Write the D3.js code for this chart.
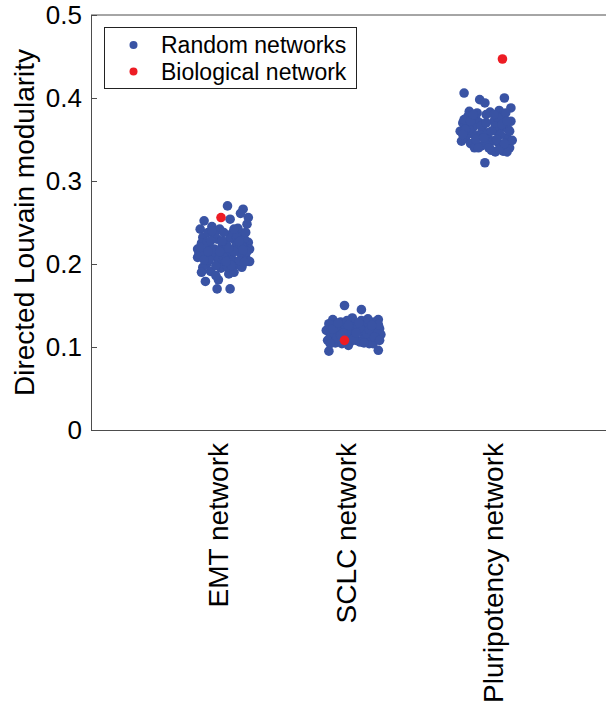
<!DOCTYPE html>
<html><head><meta charset="utf-8">
<script src="https://cdn.jsdelivr.net/npm/d3@7"></script>
<style>html,body{margin:0;padding:0;background:#fff;}svg{display:block;}</style>
</head><body>
<div id="chart"></div>
<script>
const categories = ["EMT network", "SCLC network", "Pluripotency network"];
const yTicks = [0, 0.1, 0.2, 0.3, 0.4, 0.5];
const yTickLabels = ["0", "0.1", "0.2", "0.3", "0.4", "0.5"];
const seriesNames = ["Random networks", "Biological network"];

// Random networks: [jitter offset (category units), modularity]
const emtRandom = [
  [0.05,0.270],[0.17,0.266],[0.15,0.261],[0.21,0.256],[0.07,0.254],[-0.13,0.252],[0.20,0.248],
  [-0.16,0.242],[-0.07,0.245],[-0.01,0.242],[0.16,0.237],[0.08,0.236],[-0.14,0.232],[-0.03,0.230],
  [0.21,0.226],[0.11,0.228],[-0.18,0.218],[-0.09,0.220],[0.01,0.222],[0.13,0.219],[0.22,0.218],
  [-0.18,0.208],[-0.06,0.210],[0.06,0.212],[0.19,0.208],[-0.11,0.200],[0.00,0.200],[0.11,0.199],
  [0.22,0.203],[-0.08,0.191],[0.06,0.188],[-0.12,0.179],[-0.02,0.181],[-0.03,0.170],[0.07,0.170],
  [-0.15,0.225],[-0.05,0.235],[0.03,0.215],[0.09,0.205],[0.15,0.213],[-0.12,0.214],[-0.02,0.205],
  [0.04,0.225],[0.12,0.222],[0.18,0.230],[-0.10,0.238],[0.00,0.195],[-0.14,0.196],[0.16,0.196],
  [0.10,0.190],[-0.05,0.218],[0.07,0.232],[0.14,0.204],[-0.17,0.212],[0.20,0.215],[0.02,0.238],
  [-0.09,0.205],[0.05,0.196],[0.18,0.202],[-0.04,0.186],[0.13,0.243],[-0.11,0.226],
  [-0.16,0.220],[-0.08,0.228],[0.02,0.208],[0.10,0.215],[0.16,0.222],[-0.13,0.205],[-0.04,0.198],
  [0.08,0.198],[0.19,0.238],[-0.01,0.215],[0.12,0.232],[-0.07,0.240],[0.04,0.203],[0.14,0.227],
  [-0.15,0.190],[0.10,0.242],[0.01,0.228],[-0.10,0.215],[0.17,0.217],[0.06,0.219]
];
const sclcRandom = [
  [-0.05,0.150],[0.08,0.145],[-0.14,0.133],[0.21,0.133],[-0.17,0.095],[0.21,0.096],
  [-0.19,0.120],[-0.16,0.112],[-0.15,0.126],[-0.12,0.105],[-0.10,0.118],[-0.08,0.130],[-0.06,0.110],
  [-0.04,0.122],[-0.02,0.102],[0.00,0.115],[0.02,0.128],[0.04,0.108],[0.06,0.120],[0.08,0.132],
  [0.10,0.112],[0.12,0.124],[0.14,0.104],[0.16,0.118],[0.18,0.130],[0.20,0.110],[0.22,0.122],
  [0.23,0.115],[-0.18,0.108],[-0.13,0.117],[-0.09,0.124],[-0.05,0.127],[-0.01,0.120],[0.03,0.113],
  [0.07,0.106],[0.11,0.127],[0.15,0.113],[0.19,0.118],[-0.07,0.104],[0.05,0.125],[0.13,0.134],
  [0.01,0.135],[-0.11,0.111],[0.17,0.104],[-0.03,0.132],[0.09,0.120],[0.21,0.127],[-0.17,0.128],
  [0.00,0.107],[0.12,0.116],
  [-0.14,0.122],[-0.10,0.129],[-0.06,0.117],[-0.02,0.126],[0.02,0.110],[0.06,0.129],[0.10,0.105],
  [0.14,0.121],[0.18,0.112],[0.22,0.108],[-0.16,0.104],[0.04,0.117],[-0.08,0.114],[0.16,0.126]
];
const pluriRandom = [
  [-0.13,0.406],[0.18,0.400],[-0.01,0.398],[0.03,0.394],[0.23,0.388],[-0.09,0.384],[0.14,0.385],
  [-0.16,0.360],[-0.14,0.370],[-0.12,0.352],[-0.10,0.378],[-0.08,0.345],[-0.06,0.365],[-0.04,0.375],
  [-0.02,0.355],[0.00,0.342],[0.02,0.368],[0.04,0.380],[0.06,0.350],[0.08,0.337],[0.10,0.372],
  [0.12,0.360],[0.14,0.345],[0.16,0.378],[0.18,0.365],[0.20,0.352],[0.22,0.340],[0.23,0.372],
  [-0.15,0.348],[-0.11,0.365],[-0.07,0.357],[-0.03,0.382],[0.01,0.360],[0.05,0.358],[0.09,0.348],
  [0.13,0.376],[0.17,0.336],[0.21,0.362],[-0.13,0.374],[-0.05,0.340],[0.07,0.383],[0.11,0.335],
  [0.19,0.382],[0.03,0.345],[-0.09,0.362],[0.15,0.356],[0.24,0.349],[0.03,0.322],[0.20,0.335],
  [-0.01,0.370],[0.11,0.366],
  [-0.12,0.362],[-0.08,0.372],[-0.04,0.350],[0.00,0.366],[0.04,0.370],[0.08,0.360],[0.12,0.350],
  [0.16,0.368],[0.20,0.372],[-0.14,0.356],[-0.02,0.340],[0.06,0.340],[0.14,0.338],[0.18,0.345],
  [0.10,0.380],[-0.06,0.380],[0.22,0.360],[0.02,0.352]
];
// Biological network: [jitter offset, modularity]
const biological = [[0.00,0.256],[-0.05,0.108],[0.165,0.447]];

const W = 606, H = 713;
const margin = {left: 91, top: 15, bottom: 430};
const blue = "#3953a4", red = "#ed1c24", axisColor = "#4d4d4d";
const font = "'Liberation Sans', Arial, Helvetica, sans-serif";

const svg = d3.select("#chart").append("svg").attr("width", W).attr("height", H);

const x = d3.scaleLinear().domain([0, 4]).range([margin.left, 611]);
const y = d3.scaleLinear().domain([0, 0.5]).range([margin.bottom, margin.top]);

// top box line (extends beyond the visible area)
svg.append("line").attr("x1", x(0)).attr("x2", x(4)).attr("y1", y(0.5)).attr("y2", y(0.5))
  .attr("stroke", axisColor).attr("stroke-width", 1);

const yAxis = svg.append("g").attr("transform", `translate(${margin.left},0)`)
  .call(d3.axisLeft(y).tickValues(yTicks).tickFormat((d, i) => yTickLabels[i]).tickSizeInner(-6).tickSizeOuter(0).tickPadding(9));
yAxis.select(".domain").attr("stroke", axisColor);
yAxis.selectAll(".tick line").attr("stroke", axisColor);
yAxis.selectAll(".tick text").attr("font-family", font).attr("font-size", 26).attr("fill", "#000");

const xAxis = svg.append("g").attr("transform", `translate(0,${margin.bottom})`)
  .call(d3.axisBottom(x).tickValues([1, 2, 3]).tickFormat((d) => categories[d - 1]).tickSize(0).tickSizeOuter(0));
xAxis.select(".domain").attr("stroke", axisColor);
const labelShift = [-3, -5, 12];
xAxis.selectAll(".tick text")
  .attr("font-family", font).attr("font-size", 28).attr("fill", "#000")
  .attr("text-anchor", "end")
  .attr("transform", (d, i) => `translate(${labelShift[i]},0) rotate(-90)`)
  .attr("x", -13).attr("y", 0).attr("dy", "0.35em");

// y title
svg.append("text")
  .attr("transform", `translate(34,${(margin.top + margin.bottom) / 2}) rotate(-90)`)
  .attr("text-anchor", "middle")
  .attr("font-family", font).attr("font-size", 28).attr("fill", "#000")
  .text("Directed Louvain modularity");

// points
const groups = [emtRandom, sclcRandom, pluriRandom];
const r = 4.8;
groups.forEach((pts, gi) => {
  svg.append("g").selectAll("circle").data(pts).join("circle")
    .attr("cx", d => x(gi + 1 + d[0]))
    .attr("cy", d => y(d[1]))
    .attr("r", r)
    .attr("fill", blue);
});
svg.append("g").selectAll("circle").data(biological).join("circle")
  .attr("cx", (d, i) => x(i + 1 + d[0]))
  .attr("cy", d => y(d[1]))
  .attr("r", r)
  .attr("fill", red);

// legend
const lg = svg.append("g");
lg.append("rect").attr("x", 104.5).attr("y", 27.5).attr("width", 252).attr("height", 61)
  .attr("fill", "#fff").attr("stroke", "#222").attr("stroke-width", 1);
[blue, red].forEach((c, i) => {
  lg.append("circle").attr("cx", 133.5).attr("cy", 45 + i * 26.5).attr("r", 4).attr("fill", c);
  lg.append("text").attr("x", 161).attr("y", 45 + i * 26.5).attr("dy", "0.35em")
    .attr("font-family", font).attr("font-size", 23).attr("fill", "#000").text(seriesNames[i]);
});
</script>
</body></html>
